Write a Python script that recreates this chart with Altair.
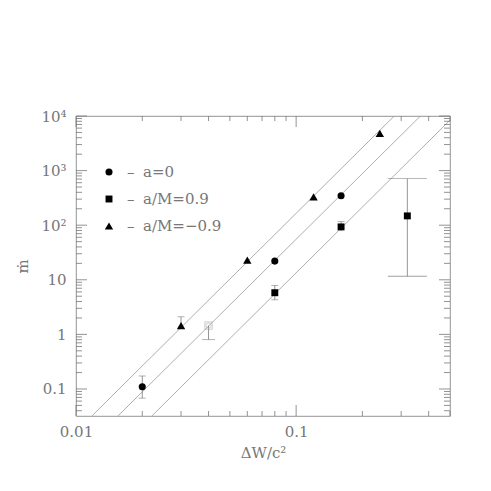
import altair as alt
import pandas as pd

# ---- data ----
a0_x = [0.02, 0.08, 0.16]
a0_y = [0.11, 22.0, 345.0]
ap_x = [0.08, 0.16, 0.32]
ap_y = [5.8, 93.0, 148.0]
am_x = [0.03, 0.06, 0.12, 0.24]
am_y = [1.45, 23.0, 330.0, 4800.0]
open_x = [0.04]
open_y = [1.45]

# error bars (x, low, high)
err_x = [0.02, 0.03, 0.04, 0.08, 0.16, 0.32]
err_lo = [0.068, 1.3, 0.80, 4.3, 78.0, 11.6]
err_hi = [0.173, 2.1, 1.45, 7.9, 116.0, 713.0]
cap_lo = [True, False, True, True, False, True]
cap_hi = [True, True, False, True, True, True]
cap_kind = ["s", "s", "m", "s", "s", "l"]

# the three fitted lines (end points)
line_id = ["l1", "l1", "l2", "l2", "l3", "l3"]
line_x = [0.0118, 0.279, 0.0155, 0.367, 0.0221, 0.5]
line_y = [0.032, 10000.0, 0.032, 10000.0, 0.032, 8400.0]

legend_labels = ["a=0", "a/M=0.9", "a/M=\u22120.9"]
legend_shapes = ["circle", "square", "triangle-up"]

x_major = [0.01, 0.1]
x_minor = [0.02, 0.03, 0.04, 0.05, 0.06, 0.07, 0.08, 0.09, 0.2, 0.3, 0.4, 0.5]
y_major = [0.1, 1, 10, 100, 1000, 10000]
y_minor = [m * 10.0 ** e for e in range(-2, 4) for m in range(2, 10)]
y_minor = [v for v in y_minor if 0.032 <= v <= 10000]

W, H = 374, 300
GRAY = "#777777"
LINE = "#999999"
FONT = "DejaVu Serif"

xs = alt.Scale(type="log", domain=[0.01, 0.5], nice=False)
ys = alt.Scale(type="log", domain=[0.032, 10000], nice=False)

y_label_expr = ("datum.value == 10000 ? '10\u2074' : datum.value == 1000 ? '10\u00b3' : "
                "datum.value == 100 ? '10\u00b2' : datum.value == 10 ? '10' : "
                "datum.value == 1 ? '1' : '0.1'")
XT = "\u0394W/c\u00b2"
YT = "\u1e41"
AX = alt.Axis(values=x_major, format="~g", labelFlush=False, ticks=False,
              domain=False, grid=False, labelPadding=8, titlePadding=6)
AY = alt.Axis(values=y_major, labelExpr=y_label_expr, ticks=False,
              domain=False, grid=False, labelPadding=10, titlePadding=10)


def X(f):
    return alt.X(f, scale=xs, axis=AX, title=XT)


def Y(f):
    return alt.Y(f, scale=ys, axis=AY, title=YT)


pts = pd.DataFrame(
    {"x": a0_x + ap_x + am_x, "y": a0_y + ap_y + am_y,
     "s": ["circle"] * 3 + ["square"] * 3 + ["triangle-up"] * 4,
     "sz": [50] * 3 + [48] * 3 + [70] * 4}
)
err = pd.DataFrame({"x": err_x, "lo": err_lo, "hi": err_hi,
                    "clo": cap_lo, "chi": cap_hi, "k": cap_kind})
lines = pd.DataFrame({"id": line_id, "x": line_x, "y": line_y})

layers = [alt.Chart(lines).mark_line(color=LINE, strokeWidth=0.8, clip=True).encode(
    x=X("x:Q"), y=Y("y:Q"), detail="id:N")]

for vals, ln in [(x_minor, 5), (x_major, 11)]:
    d = pd.DataFrame({"v": vals})
    layers.append(alt.Chart(d).mark_rule(color=GRAY, strokeWidth=0.8).encode(
        x=X("v:Q"), y=alt.value(H), y2=alt.value(H - ln)))
    layers.append(alt.Chart(d).mark_rule(color=GRAY, strokeWidth=0.8).encode(
        x=X("v:Q"), y=alt.value(0), y2=alt.value(ln)))
for vals, ln in [(y_minor, 6), (y_major, 11)]:
    d = pd.DataFrame({"v": vals})
    layers.append(alt.Chart(d).mark_rule(color=GRAY, strokeWidth=0.8).encode(
        y=Y("v:Q"), x=alt.value(0), x2=alt.value(ln)))
    layers.append(alt.Chart(d).mark_rule(color=GRAY, strokeWidth=0.8).encode(
        y=Y("v:Q"), x=alt.value(W), x2=alt.value(W - ln)))

# error bars
ebase = alt.Chart(err)
layers.append(ebase.mark_rule(color=GRAY, strokeWidth=0.8).encode(
    x=X("x:Q"), y=Y("lo:Q"), y2="hi:Q"))
for kind, size in [("s", 7), ("m", 13), ("l", 39)]:
    layers.append(ebase.transform_filter(
        (alt.datum.k == kind) & (alt.datum.clo == True)).mark_tick(
        orient="horizontal", size=size, thickness=0.8, color=GRAY).encode(
        x=X("x:Q"), y=Y("lo:Q")))
    layers.append(ebase.transform_filter(
        (alt.datum.k == kind) & (alt.datum.chi == True)).mark_tick(
        orient="horizontal", size=size, thickness=0.8, color=GRAY).encode(
        x=X("x:Q"), y=Y("hi:Q")))

# open marker
op = pd.DataFrame({"x": open_x, "y": open_y})
layers.append(alt.Chart(op).mark_point(shape="square", size=55, filled=False,
                                       color="#aaaaaa", strokeWidth=0.8).encode(
    x=X("x:Q"), y=Y("y:Q")))
layers.append(alt.Chart(op).mark_point(shape="circle", size=28, filled=False,
                                       color="#aaaaaa", strokeWidth=0.8).encode(
    x=X("x:Q"), y=Y("y:Q")))

# data points
layers.append(alt.Chart(pts).mark_point(filled=True, opacity=1, color="black").encode(
    x=X("x:Q"), y=Y("y:Q"),
    shape=alt.Shape("s:N", scale=None),
    size=alt.Size("sz:Q", scale=None)))

# legend
legend_y = [56, 83, 110]
legend_size = [50, 48, 70]
for i, (lab, shp) in enumerate(zip(legend_labels, legend_shapes)):
    d = alt.Data(values=[{"t": lab}])
    layers.append(alt.Chart(d).mark_point(filled=True, opacity=1, color="black",
                                          size=legend_size[i], shape=shp).encode(
        x=alt.value(33), y=alt.value(legend_y[i])))
    layers.append(alt.Chart(d).mark_text(text="\u2013", font=FONT, fontSize=15,
                                         color=GRAY, align="left", baseline="middle").encode(
        x=alt.value(51), y=alt.value(legend_y[i])))
    layers.append(alt.Chart(d).mark_text(font=FONT, fontSize=15, color=GRAY,
                                         align="left", baseline="middle").encode(
        text="t:N", x=alt.value(67), y=alt.value(legend_y[i])))

chart = alt.layer(*layers).properties(
    width=W, height=H,
    autosize=alt.AutoSizeParams(type="none"),
    padding={"left": 68, "top": 108, "right": 25, "bottom": 60},
).configure_view(stroke=GRAY, strokeWidth=0.8).configure_axis(
    labelFont=FONT, labelFontSize=15, labelColor=GRAY, labelFontWeight="normal",
    titleFont=FONT, titleFontSize=15, titleColor=GRAY, titleFontWeight="normal",
)

chart.save("out.html", embed_options={"renderer": "svg", "actions": False})
